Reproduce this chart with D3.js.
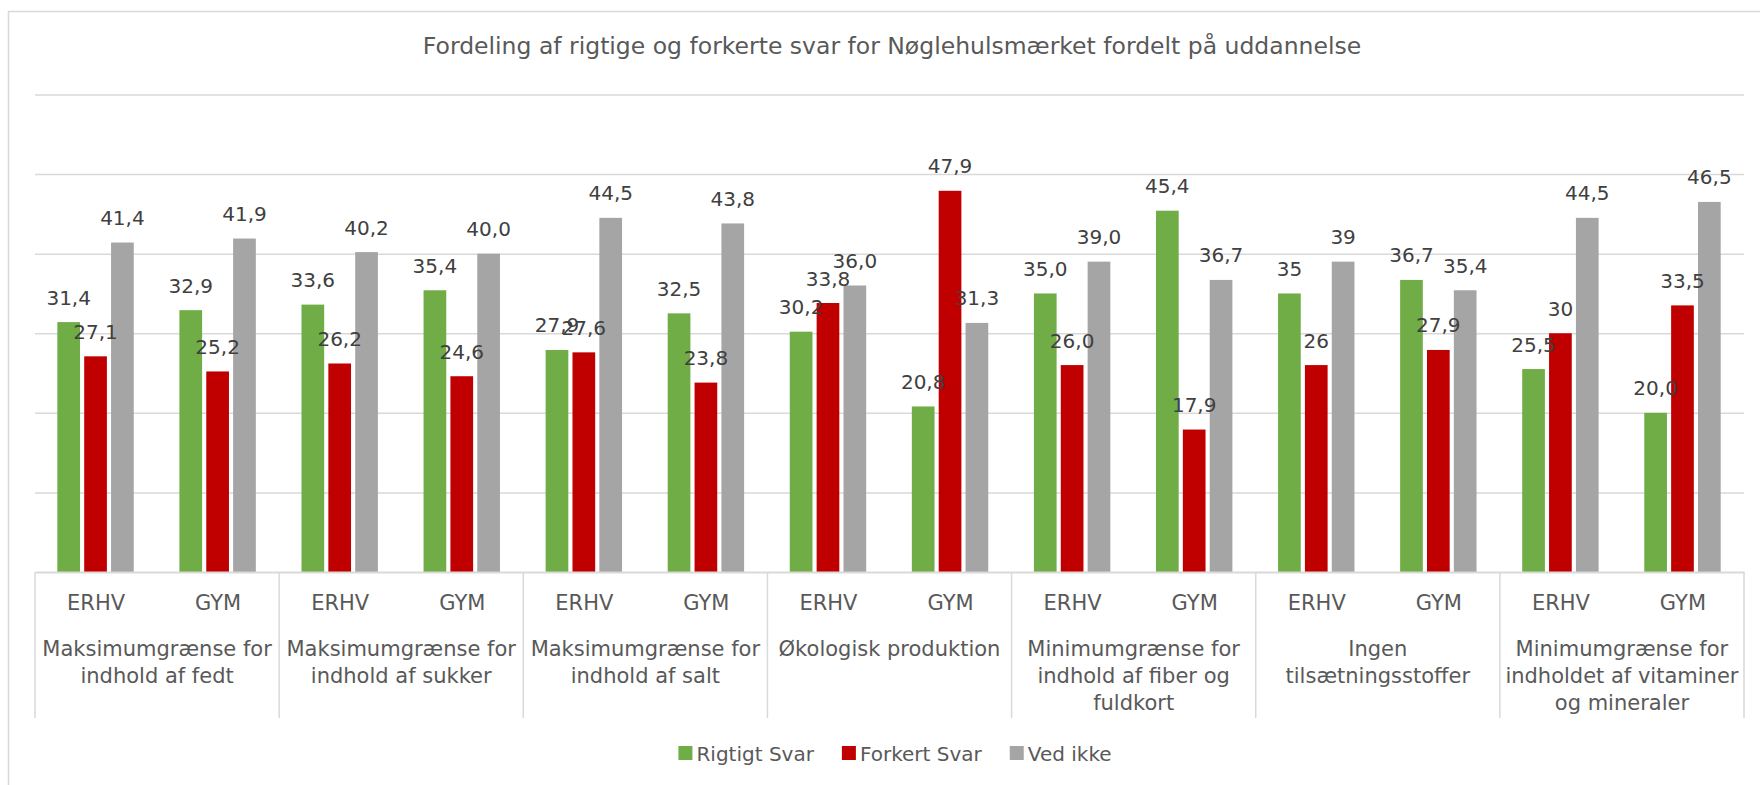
<!DOCTYPE html>
<html>
<head>
<meta charset="utf-8">
<script src="https://cdn.jsdelivr.net/npm/d3@7"></script>
<style>
  html, body { margin: 0; padding: 0; background: #fff; }
  svg { display: block; font-family: "DejaVu Sans", sans-serif; }
</style>
</head>
<body>
<svg id="chart" width="1760" height="785"></svg>
<script>
'use strict';

// ---- Data -------------------------------------------------------------------

const title = 'Fordeling af rigtige og forkerte svar for Nøglehulsmærket fordelt på uddannelse';

const groups = [
  ['Maksimumgrænse for', 'indhold af fedt'],
  ['Maksimumgrænse for', 'indhold af sukker'],
  ['Maksimumgrænse for', 'indhold af salt'],
  ['Økologisk produktion'],
  ['Minimumgrænse for', 'indhold af fiber og', 'fuldkort'],
  ['Ingen', 'tilsætningsstoffer'],
  ['Minimumgrænse for', 'indholdet af vitaminer', 'og mineraler'],
];
const subs = ['ERHV', 'GYM'];

const seriesNames = ['Rigtigt Svar', 'Forkert Svar', 'Ved ikke'];
const seriesColors = ['#70AD47', '#C00000', '#A5A5A5'];

// labels as printed in the chart (order: fedt ERHV, fedt GYM, sukker ERHV, ...)
const rigtigt = ['31,4', '32,9', '33,6', '35,4', '27,9', '32,5', '30,2', '20,8', '35,0', '45,4', '35', '36,7', '25,5', '20,0'];
const forkert = ['27,1', '25,2', '26,2', '24,6', '27,6', '23,8', '33,8', '47,9', '26,0', '17,9', '26', '27,9', '30', '33,5'];
const vedIkke = ['41,4', '41,9', '40,2', '40,0', '44,5', '43,8', '36,0', '31,3', '39,0', '36,7', '39', '35,4', '44,5', '46,5'];

const yTicks = [10, 20, 30, 40, 50, 60];

// ---- Layout -----------------------------------------------------------------

const svg = d3.select('#chart');
const TEXT = '#595959';
const GRID = '#D9D9D9';
const plot = { left: 35, right: 1744, top: 94.5, bottom: 572 };

// chart frame
svg.append('rect')
  .attr('x', 8.5).attr('y', 11.5)
  .attr('width', 1780).attr('height', 800)
  .attr('fill', '#fff').attr('stroke', GRID).attr('stroke-width', 1.5);

svg.append('text')
  .attr('x', 892).attr('y', 53.5)
  .attr('text-anchor', 'middle')
  .attr('font-size', 23.5)
  .attr('fill', TEXT)
  .text(title);

// ---- Scales -----------------------------------------------------------------

const keys = [];
groups.forEach((g, i) => subs.forEach(s => keys.push(`${i}|${s}`)));

const rows = keys.map((k, i) => ({
  key: k,
  sub: k.split('|')[1],
  values: [rigtigt[i], forkert[i], vedIkke[i]].map((lab, j) => ({
    series: seriesNames[j],
    label: lab,
    value: parseFloat(lab.replace(',', '.')),
    color: seriesColors[j],
  })),
}));

const y = d3.scaleLinear().domain([0, 60]).range([plot.bottom, plot.top]);
const x0 = d3.scaleBand().domain(keys).range([plot.left, plot.right]);
const xg = d3.scaleBand().domain(groups.map((g, i) => i)).range([plot.left, plot.right]);
const x1 = d3.scaleBand().domain(seriesNames)
  .range([x0.bandwidth() * 0.183, x0.bandwidth() * 0.809])
  .paddingInner(0.155);

// ---- Gridlines --------------------------------------------------------------

const grid = svg.append('g')
  .attr('transform', `translate(${plot.left},0)`)
  .call(d3.axisLeft(y).tickValues(yTicks).tickSize(-(plot.right - plot.left)).tickFormat(''));
grid.select('.domain').remove();
grid.selectAll('.tick line').attr('stroke', GRID).attr('stroke-width', 1.5);

// ---- Bars -------------------------------------------------------------------

const cluster = svg.append('g').selectAll('g')
  .data(rows)
  .join('g')
  .attr('transform', d => `translate(${x0(d.key)},0)`);

cluster.selectAll('rect')
  .data(d => d.values)
  .join('rect')
  .attr('x', d => x1(d.series))
  .attr('y', d => y(d.value))
  .attr('width', x1.bandwidth())
  .attr('height', d => y(0) - y(d.value))
  .attr('fill', d => d.color);

cluster.selectAll('text')
  .data(d => d.values)
  .join('text')
  .attr('x', d => x1(d.series) + x1.bandwidth() / 2)
  .attr('y', d => y(d.value) - 17.5)
  .attr('text-anchor', 'middle')
  .attr('font-size', 20)
  .attr('fill', '#404040')
  .text(d => d.label);

// ---- Category axis ----------------------------------------------------------

const xAxis = svg.append('g')
  .attr('transform', `translate(0,${plot.bottom})`)
  .call(d3.axisBottom(x0).tickSize(0).tickSizeOuter(0).tickPadding(23)
    .tickFormat(k => k.split('|')[1]));
xAxis.select('.domain').attr('stroke', GRID).attr('stroke-width', 2);
xAxis.selectAll('.tick text')
  .attr('font-family', '"DejaVu Sans", sans-serif')
  .attr('font-size', 21)
  .attr('fill', TEXT);

// group separators
const sepBounds = groups.map((g, i) => xg(i)).concat([plot.right]);
svg.append('g').selectAll('line')
  .data(sepBounds)
  .join('line')
  .attr('x1', d => d).attr('x2', d => d)
  .attr('y1', plot.bottom).attr('y2', 718)
  .attr('stroke', GRID).attr('stroke-width', 1.5);

// group labels
svg.append('g').selectAll('text')
  .data(groups)
  .join('text')
  .attr('x', (d, i) => xg(i) + xg.bandwidth() / 2)
  .attr('y', 656)
  .attr('text-anchor', 'middle')
  .attr('font-size', 21)
  .attr('fill', TEXT)
  .selectAll('tspan')
  .data(d => d)
  .join('tspan')
  .attr('x', function () { return this.parentNode.getAttribute('x'); })
  .attr('dy', (d, i) => i === 0 ? 0 : 27)
  .text(d => d);

// ---- Legend -----------------------------------------------------------------

const legend = svg.append('g');
const items = legend.selectAll('g')
  .data(seriesNames)
  .join('g');
items.append('rect')
  .attr('width', 14).attr('height', 14)
  .attr('y', -7)
  .attr('fill', (d, i) => seriesColors[i]);
items.append('text')
  .attr('x', 18).attr('y', 7.5)
  .attr('font-size', 20)
  .attr('fill', TEXT)
  .text(d => d);

let cursor = 0;
items.each(function () {
  const w = 18 + this.querySelector('text').getComputedTextLength();
  d3.select(this).attr('transform', `translate(${cursor},0)`);
  cursor += w + 28;
});
const legendW = cursor - 28;
legend.attr('transform', `translate(${895 - legendW / 2},753)`);
</script>
</body>
</html>
